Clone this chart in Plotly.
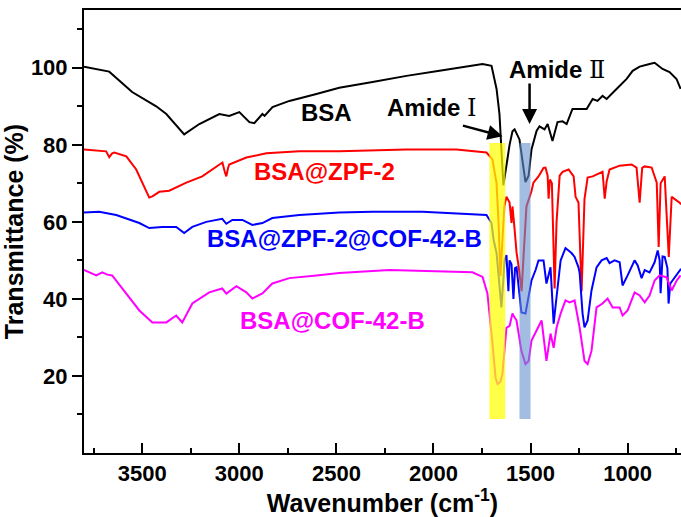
import plotly.graph_objects as go

# ---------------- data ----------------
bsa_wn = [3800, 3722, 3670, 3552, 3428, 3376, 3284, 3206, 3103, 3052, 3000, 2948, 2923, 2881, 2870,
          2829, 2742, 2603, 2485, 2314, 2139, 1969, 1799, 1747, 1701, 1675, 1660, 1649, 1640, 1620,
          1608, 1593, 1582, 1557, 1540, 1526, 1510, 1495, 1469, 1454, 1428, 1412, 1387, 1361, 1335,
          1314, 1284, 1211, 1180, 1155, 1129, 1108, 1057, 1005, 974, 938, 887, 861, 820, 784, 748, 727]
bsa_t = [100.3, 99.5, 99.0, 93.7, 90.0, 88.0, 82.7, 85.4, 88.0, 87.5, 88.5, 85.9, 85.6, 88.0, 87.5,
         89.8, 91.4, 93.2, 94.8, 96.3, 97.9, 99.2, 100.5, 101.0, 100.5, 94.5, 88.0, 76.0, 69.5, 76.0,
         80.0, 83.5, 84.0, 81.4, 75.0, 70.3, 72.0, 78.8, 83.6, 84.8, 84.0, 85.4, 81.0, 85.9, 86.1,
         85.4, 89.3, 89.3, 91.9, 91.4, 92.7, 91.9, 94.5, 97.1, 99.2, 100.3, 101.0, 101.3, 99.7, 98.9, 97.1, 94.5]

zpf_wn = [3800, 3700, 3686, 3670, 3655, 3644, 3582, 3531, 3500, 3464, 3448, 3412, 3361, 3273, 3191,
          3103, 3087, 3075, 3067, 3058, 3052, 2964, 2861, 2691, 2485, 2139, 1881, 1727, 1696, 1675,
          1665, 1655, 1645, 1635, 1624, 1608, 1598, 1593, 1582, 1572, 1560, 1546, 1535, 1521, 1495,
          1485, 1459, 1433, 1423, 1412, 1407, 1400, 1390, 1376, 1366, 1350, 1335, 1304, 1278, 1268,
          1253, 1237, 1222, 1206, 1180, 1129, 1118, 1108, 1093, 1041, 979, 954, 938, 925, 912,
          876, 850, 840, 830, 820, 809, 788, 773, 732, 725]
zpf_t = [78.8, 78.5, 78.3, 76.8, 77.8, 78.0, 77.0, 73.6, 70.2, 66.3, 66.6, 67.8, 68.1, 70.2, 71.8,
         74.9, 75.4, 73.0, 71.8, 74.0, 74.9, 76.7, 77.8, 78.3, 78.3, 78.8, 78.8, 78.0, 76.2, 70.0,
         60.0, 46.0, 55.0, 64.0, 66.5, 65.0, 59.7, 64.0, 58.0, 52.0, 48.0, 42.0, 52.0, 64.0, 68.0,
         70.2, 71.8, 74.0, 74.1, 72.0, 66.0, 71.0, 70.0, 42.7, 60.0, 72.0, 73.0, 73.6, 71.8, 66.5,
         65.0, 42.0, 66.0, 71.5, 71.8, 73.0, 66.0, 70.5, 73.6, 74.6, 74.9, 74.1, 65.0, 74.0, 74.4,
         74.1, 70.2, 53.5, 70.0, 71.0, 71.8, 50.9, 66.5, 65.0, 64.5]

zpfcof_wn = [3800, 3722, 3634, 3515, 3464, 3397, 3325, 3284, 3242, 3170, 3088, 3067, 3036, 2984, 2933,
             2881, 2830, 2691, 2485, 2314, 2057, 1727, 1701, 1690, 1675, 1660, 1650, 1640, 1634, 1624,
             1614, 1608, 1598, 1588, 1580, 1572, 1560, 1547, 1526, 1510, 1495, 1474, 1459, 1433, 1418,
             1397, 1381, 1366, 1345, 1320, 1289, 1273, 1253, 1247, 1232, 1222, 1206, 1186, 1160, 1134,
             1108, 1093, 1067, 1041, 1026, 1000, 964, 948, 928, 912, 887, 861, 845, 835, 830,
             820, 809, 795, 789, 780, 768, 732, 725]
zpfcof_t = [62.4, 62.6, 61.8, 59.7, 58.4, 58.7, 58.7, 57.1, 58.7, 60.0, 60.8, 59.5, 60.5, 60.5, 59.2,
            59.7, 61.0, 61.8, 62.4, 62.6, 62.6, 61.8, 59.7, 55.3, 51.9, 42.0, 37.8, 45.0, 50.0, 51.4,
            42.0, 50.0, 49.0, 40.0, 48.0, 48.2, 42.0, 36.5, 36.2, 40.4, 44.8, 47.5, 50.0, 50.0, 44.0,
            48.2, 33.6, 40.5, 50.0, 53.2, 51.9, 50.9, 48.2, 46.7, 36.2, 32.6, 34.4, 42.2, 48.2, 50.0,
            50.6, 49.3, 50.0, 49.5, 43.5, 46.1, 50.0, 48.7, 45.4, 47.5, 46.9, 49.5, 52.6, 50.0, 41.5,
            51.0, 50.9, 48.0, 38.8, 44.0, 44.8, 47.5, 47.8]

cof_wn = [3800, 3737, 3706, 3680, 3655, 3582, 3515, 3448, 3376, 3325, 3294, 3242, 3155, 3088, 3067,
          3015, 2964, 2933, 2881, 2830, 2742, 2603, 2485, 2227, 1799, 1747, 1722, 1696, 1680, 1670,
          1655, 1645, 1624, 1608, 1593, 1588, 1572, 1547, 1526, 1510, 1495, 1469, 1443, 1418, 1397,
          1381, 1366, 1345, 1320, 1299, 1273, 1247, 1222, 1206, 1186, 1160, 1129, 1103, 1077, 1041,
          1026, 1000, 964, 938, 912, 887, 861, 835, 799, 773, 747, 727]
cof_t = [47.5, 46.1, 46.9, 46.3, 46.1, 41.4, 37.0, 33.9, 33.9, 35.7, 33.9, 38.8, 41.7, 42.7, 41.4,
         43.3, 41.7, 40.1, 41.4, 44.0, 45.4, 46.1, 46.7, 47.5, 46.9, 45.7, 41.4, 28.4, 19.5, 17.9,
         18.5, 20.5, 32.5, 33.0, 36.2, 35.7, 34.4, 26.5, 23.1, 23.9, 29.2, 31.8, 34.4, 23.9, 31.0,
         27.3, 32.5, 36.2, 39.6, 39.1, 39.6, 32.5, 23.9, 23.1, 26.5, 37.8, 38.8, 40.1, 37.8, 37.8,
         35.7, 37.0, 41.7, 40.9, 39.1, 40.9, 44.8, 46.1, 45.6, 42.2, 44.8, 46.1]

series_names = ["BSA", "BSA@ZPF-2", "BSA@ZPF-2@COF-42-B", "BSA@COF-42-B"]
series_colors = ["#000000", "#FF0000", "#0000FF", "#FF00FF"]
series_x = [bsa_wn, zpf_wn, zpfcof_wn, cof_wn]
series_y = [bsa_t, zpf_t, zpfcof_t, cof_t]

# label positions (data coords)
label_x = [2552, 2562, 2459, 2521]
label_y = [88.5, 73.1, 55.6, 34.4]

# highlight bands (wavenumber ranges)
amide1_band = [1712, 1630]
amide2_band = [1557, 1500]
band_y = [8.8, 80.5]

x_ticks = [3500, 3000, 2500, 2000, 1500, 1000]
x_minor = [3750, 3250, 2750, 2250, 1750, 1250, 750]
y_ticks = [20, 40, 60, 80, 100]
y_minor = [10, 30, 50, 70, 90, 110]

FONT = "Liberation Sans, Arial, sans-serif"

fig = go.Figure()
for name, col, xs, ys in zip(series_names, series_colors, series_x, series_y):
    fig.add_trace(go.Scatter(x=xs, y=ys, mode="lines", name=name,
                             line=dict(color=col, width=2), showlegend=False))

for name, col, lx, ly in zip(series_names, series_colors, label_x, label_y):
    fig.add_annotation(x=lx, y=ly, xref="x", yref="y", text=name, showarrow=False,
                       font=dict(family=FONT, size=24, color=col, weight="bold"))

fig.add_shape(type="rect", xref="x", yref="y", x0=amide1_band[0], x1=amide1_band[1],
              y0=band_y[0], y1=band_y[1], fillcolor="rgba(255,255,0,0.72)",
              line=dict(width=0), layer="above")
fig.add_shape(type="rect", xref="x", yref="y", x0=amide2_band[0], x1=amide2_band[1],
              y0=band_y[0], y1=band_y[1], fillcolor="rgba(100,145,205,0.6)",
              line=dict(width=0), layer="above")

roman = "<span style='font-family:DejaVu Serif;font-weight:normal'>%s</span>"
fig.add_annotation(x=2005, y=89.5, xref="x", yref="y",
                   text="<b>Amide</b> " + roman % "Ⅰ", showarrow=False,
                   font=dict(family=FONT, size=24, color="black"))
fig.add_annotation(x=1366, y=99.5, xref="x", yref="y",
                   text="<b>Amide</b> " + roman % "Ⅱ", showarrow=False,
                   font=dict(family=FONT, size=24, color="black"))
# arrows
fig.add_annotation(x=1644, y=82.2, ax=1856, ay=85.1, xref="x", yref="y", axref="x", ayref="y",
                   text="", showarrow=True, arrowhead=2, arrowsize=1.2, arrowwidth=2.5,
                   arrowcolor="black")
fig.add_annotation(x=1505, y=85.4, ax=1505, ay=96.3, xref="x", yref="y", axref="x", ayref="y",
                   text="", showarrow=True, arrowhead=2, arrowsize=1.2, arrowwidth=2.5,
                   arrowcolor="black")

fig.update_layout(
    width=681, height=517,
    margin=dict(l=84, r=0, t=10, b=64),
    paper_bgcolor="white", plot_bgcolor="white",
    font=dict(family=FONT, color="black"),
    xaxis=dict(range=[3800, 725], showgrid=False, zeroline=False,
               showline=True, linecolor="black", linewidth=2, mirror=True,
               tickmode="array", tickvals=x_ticks, ticks="inside", ticklen=10, tickwidth=2,
               tickcolor="black",
               minor=dict(tickvals=x_minor, ticks="inside", ticklen=5, tickwidth=2, tickcolor="black"),
               tickfont=dict(family=FONT, size=22, color="black", weight="bold"),
               title=dict(text="<b>Wavenumber (cm<sup>-1</sup>)</b>", standoff=4,
                          font=dict(family=FONT, size=25, color="black"))),
    yaxis=dict(range=[0, 115], showgrid=False, zeroline=False,
               showline=True, linecolor="black", linewidth=2, mirror=False,
               tickmode="array", tickvals=y_ticks, ticks="outside", ticklen=10, tickwidth=2,
               tickcolor="black",
               minor=dict(tickvals=y_minor, ticks="outside", ticklen=5, tickwidth=2, tickcolor="black"),
               tickfont=dict(family=FONT, size=22, color="black", weight="bold"),
               title=dict(text="<b>Transmittance (%)</b>", standoff=2,
                          font=dict(family=FONT, size=25, color="black"))),
)

fig.write_html("out.html")
